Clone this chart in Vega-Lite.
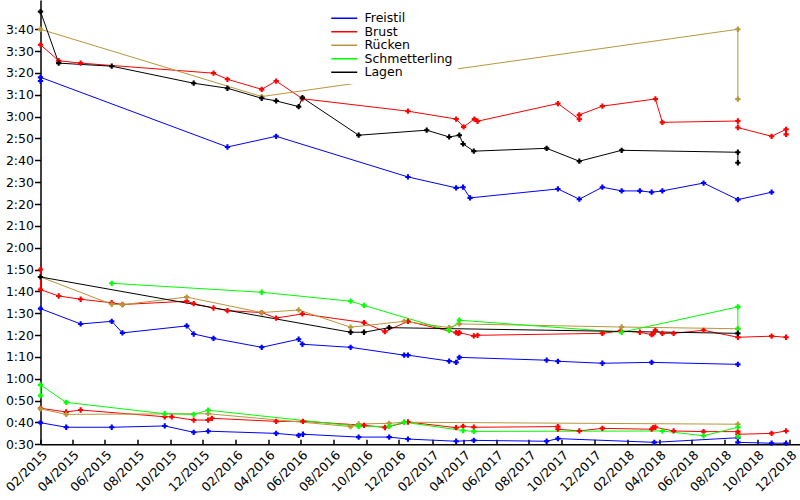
{
  "$schema": "https://vega.github.io/schema/vega-lite/v6.json",
  "width": 759.5,
  "height": 444.3,
  "autosize": {"type": "none"},
  "padding": {"left": 40.5, "top": 0, "right": 0, "bottom": 55.7},
  "background": "white",
  "config": {
    "view": {"stroke": null},
    "font": "DejaVu Sans",
    "axis": {"grid": false, "title": null, "domainColor": "black", "domainWidth": 1.5, "tickColor": "black", "tickWidth": 1.5, "labelColor": "black", "labelFontSize": 12.5, "labelFont": "DejaVu Sans"}
  },
  "datasets": {
    "zeiten": [
      {"datum": "2015-02-01", "stil": "Freistil", "strecke": 200, "zeit": 196.3},
      {"datum": "2015-02-01", "stil": "Freistil", "strecke": 200, "zeit": 198.0},
      {"datum": "2016-01-16", "stil": "Freistil", "strecke": 200, "zeit": 166.1},
      {"datum": "2016-04-16", "stil": "Freistil", "strecke": 200, "zeit": 171.0},
      {"datum": "2016-12-18", "stil": "Freistil", "strecke": 200, "zeit": 152.4},
      {"datum": "2017-03-18", "stil": "Freistil", "strecke": 200, "zeit": 147.4},
      {"datum": "2017-03-31", "stil": "Freistil", "strecke": 200, "zeit": 147.7},
      {"datum": "2017-04-13", "stil": "Freistil", "strecke": 200, "zeit": 142.8},
      {"datum": "2017-09-24", "stil": "Freistil", "strecke": 200, "zeit": 146.9},
      {"datum": "2017-11-03", "stil": "Freistil", "strecke": 200, "zeit": 142.2},
      {"datum": "2017-12-16", "stil": "Freistil", "strecke": 200, "zeit": 147.7},
      {"datum": "2018-01-21", "stil": "Freistil", "strecke": 200, "zeit": 146.0},
      {"datum": "2018-02-24", "stil": "Freistil", "strecke": 200, "zeit": 146.0},
      {"datum": "2018-03-18", "stil": "Freistil", "strecke": 200, "zeit": 145.4},
      {"datum": "2018-04-07", "stil": "Freistil", "strecke": 200, "zeit": 146.0},
      {"datum": "2018-06-23", "stil": "Freistil", "strecke": 200, "zeit": 149.6},
      {"datum": "2018-08-26", "stil": "Freistil", "strecke": 200, "zeit": 142.0},
      {"datum": "2018-10-28", "stil": "Freistil", "strecke": 200, "zeit": 145.4},

      {"datum": "2015-02-01", "stil": "Brust", "strecke": 200, "zeit": 212.9},
      {"datum": "2015-03-07", "stil": "Brust", "strecke": 200, "zeit": 205.6},
      {"datum": "2015-04-17", "stil": "Brust", "strecke": 200, "zeit": 204.5},
      {"datum": "2015-12-21", "stil": "Brust", "strecke": 200, "zeit": 199.9},
      {"datum": "2016-01-16", "stil": "Brust", "strecke": 200, "zeit": 197.1},
      {"datum": "2016-03-20", "stil": "Brust", "strecke": 200, "zeit": 192.5},
      {"datum": "2016-04-16", "stil": "Brust", "strecke": 200, "zeit": 196.3},
      {"datum": "2016-06-04", "stil": "Brust", "strecke": 200, "zeit": 188.2},
      {"datum": "2016-12-18", "stil": "Brust", "strecke": 200, "zeit": 182.5},
      {"datum": "2017-03-18", "stil": "Brust", "strecke": 200, "zeit": 178.9},
      {"datum": "2017-04-01", "stil": "Brust", "strecke": 200, "zeit": 175.3},
      {"datum": "2017-04-21", "stil": "Brust", "strecke": 200, "zeit": 178.9},
      {"datum": "2017-04-27", "stil": "Brust", "strecke": 200, "zeit": 177.9},
      {"datum": "2017-09-24", "stil": "Brust", "strecke": 200, "zeit": 186.0},
      {"datum": "2017-11-03", "stil": "Brust", "strecke": 200, "zeit": 178.8},
      {"datum": "2017-11-03", "stil": "Brust", "strecke": 200, "zeit": 180.8},
      {"datum": "2017-12-16", "stil": "Brust", "strecke": 200, "zeit": 184.8},
      {"datum": "2018-03-25", "stil": "Brust", "strecke": 200, "zeit": 188.1},
      {"datum": "2018-04-07", "stil": "Brust", "strecke": 200, "zeit": 177.4},
      {"datum": "2018-08-26", "stil": "Brust", "strecke": 200, "zeit": 178.0},
      {"datum": "2018-08-26", "stil": "Brust", "strecke": 200, "zeit": 175.0},
      {"datum": "2018-10-28", "stil": "Brust", "strecke": 200, "zeit": 171.0},
      {"datum": "2018-11-24", "stil": "Brust", "strecke": 200, "zeit": 174.2},
      {"datum": "2018-11-24", "stil": "Brust", "strecke": 200, "zeit": 171.9},

      {"datum": "2015-02-01", "stil": "Rücken", "strecke": 200, "zeit": 220.0},
      {"datum": "2016-03-20", "stil": "Rücken", "strecke": 200, "zeit": 189.2},
      {"datum": "2018-08-26", "stil": "Rücken", "strecke": 200, "zeit": 220.0},
      {"datum": "2018-08-26", "stil": "Rücken", "strecke": 200, "zeit": 188.0},

      {"datum": "2015-02-01", "stil": "Lagen", "strecke": 200, "zeit": 228.1},
      {"datum": "2015-03-07", "stil": "Lagen", "strecke": 200, "zeit": 204.5},
      {"datum": "2015-06-14", "stil": "Lagen", "strecke": 200, "zeit": 203.1},
      {"datum": "2015-11-14", "stil": "Lagen", "strecke": 200, "zeit": 195.3},
      {"datum": "2016-01-16", "stil": "Lagen", "strecke": 200, "zeit": 193.0},
      {"datum": "2016-03-20", "stil": "Lagen", "strecke": 200, "zeit": 188.4},
      {"datum": "2016-04-16", "stil": "Lagen", "strecke": 200, "zeit": 187.2},
      {"datum": "2016-05-28", "stil": "Lagen", "strecke": 200, "zeit": 184.6},
      {"datum": "2016-06-04", "stil": "Lagen", "strecke": 200, "zeit": 188.7},
      {"datum": "2016-09-17", "stil": "Lagen", "strecke": 200, "zeit": 171.5},
      {"datum": "2017-01-22", "stil": "Lagen", "strecke": 200, "zeit": 173.8},
      {"datum": "2017-03-05", "stil": "Lagen", "strecke": 200, "zeit": 170.7},
      {"datum": "2017-03-24", "stil": "Lagen", "strecke": 200, "zeit": 171.5},
      {"datum": "2017-03-31", "stil": "Lagen", "strecke": 200, "zeit": 167.5},
      {"datum": "2017-04-20", "stil": "Lagen", "strecke": 200, "zeit": 164.2},
      {"datum": "2017-09-03", "stil": "Lagen", "strecke": 200, "zeit": 165.5},
      {"datum": "2017-11-03", "stil": "Lagen", "strecke": 200, "zeit": 159.6},
      {"datum": "2018-01-21", "stil": "Lagen", "strecke": 200, "zeit": 164.6},
      {"datum": "2018-08-26", "stil": "Lagen", "strecke": 200, "zeit": 163.7},
      {"datum": "2018-08-26", "stil": "Lagen", "strecke": 200, "zeit": 158.9},

      {"datum": "2015-02-01", "stil": "Freistil", "strecke": 100, "zeit": 92.1},
      {"datum": "2015-04-17", "stil": "Freistil", "strecke": 100, "zeit": 85.1},
      {"datum": "2015-06-14", "stil": "Freistil", "strecke": 100, "zeit": 86.3},
      {"datum": "2015-07-04", "stil": "Freistil", "strecke": 100, "zeit": 81.0},
      {"datum": "2015-11-01", "stil": "Freistil", "strecke": 100, "zeit": 84.2},
      {"datum": "2015-11-14", "stil": "Freistil", "strecke": 100, "zeit": 80.5},
      {"datum": "2015-12-21", "stil": "Freistil", "strecke": 100, "zeit": 78.5},
      {"datum": "2016-03-20", "stil": "Freistil", "strecke": 100, "zeit": 74.4},
      {"datum": "2016-05-28", "stil": "Freistil", "strecke": 100, "zeit": 78.1},
      {"datum": "2016-06-04", "stil": "Freistil", "strecke": 100, "zeit": 75.8},
      {"datum": "2016-09-02", "stil": "Freistil", "strecke": 100, "zeit": 74.4},
      {"datum": "2016-12-11", "stil": "Freistil", "strecke": 100, "zeit": 70.8},
      {"datum": "2016-12-18", "stil": "Freistil", "strecke": 100, "zeit": 70.8},
      {"datum": "2017-03-05", "stil": "Freistil", "strecke": 100, "zeit": 68.1},
      {"datum": "2017-03-18", "stil": "Freistil", "strecke": 100, "zeit": 67.5},
      {"datum": "2017-03-24", "stil": "Freistil", "strecke": 100, "zeit": 69.8},
      {"datum": "2017-09-03", "stil": "Freistil", "strecke": 100, "zeit": 68.5},
      {"datum": "2017-09-24", "stil": "Freistil", "strecke": 100, "zeit": 68.0},
      {"datum": "2017-12-16", "stil": "Freistil", "strecke": 100, "zeit": 67.1},
      {"datum": "2018-03-18", "stil": "Freistil", "strecke": 100, "zeit": 67.5},
      {"datum": "2018-08-26", "stil": "Freistil", "strecke": 100, "zeit": 66.6},

      {"datum": "2015-02-01", "stil": "Brust", "strecke": 100, "zeit": 110.0},
      {"datum": "2015-02-01", "stil": "Brust", "strecke": 100, "zeit": 100.8},
      {"datum": "2015-03-07", "stil": "Brust", "strecke": 100, "zeit": 97.9},
      {"datum": "2015-04-17", "stil": "Brust", "strecke": 100, "zeit": 96.4},
      {"datum": "2015-06-14", "stil": "Brust", "strecke": 100, "zeit": 94.8},
      {"datum": "2015-07-04", "stil": "Brust", "strecke": 100, "zeit": 94.0},
      {"datum": "2015-11-01", "stil": "Brust", "strecke": 100, "zeit": 95.5},
      {"datum": "2015-11-14", "stil": "Brust", "strecke": 100, "zeit": 94.4},
      {"datum": "2015-12-21", "stil": "Brust", "strecke": 100, "zeit": 92.4},
      {"datum": "2016-01-16", "stil": "Brust", "strecke": 100, "zeit": 91.2},
      {"datum": "2016-03-20", "stil": "Brust", "strecke": 100, "zeit": 90.3},
      {"datum": "2016-04-16", "stil": "Brust", "strecke": 100, "zeit": 87.8},
      {"datum": "2016-06-04", "stil": "Brust", "strecke": 100, "zeit": 89.7},
      {"datum": "2016-09-27", "stil": "Brust", "strecke": 100, "zeit": 85.7},
      {"datum": "2016-11-05", "stil": "Brust", "strecke": 100, "zeit": 81.6},
      {"datum": "2016-12-18", "stil": "Brust", "strecke": 100, "zeit": 86.3},
      {"datum": "2017-03-18", "stil": "Brust", "strecke": 100, "zeit": 81.1},
      {"datum": "2017-03-22", "stil": "Brust", "strecke": 100, "zeit": 80.8},
      {"datum": "2017-03-24", "stil": "Brust", "strecke": 100, "zeit": 81.1},
      {"datum": "2017-04-20", "stil": "Brust", "strecke": 100, "zeit": 79.6},
      {"datum": "2017-04-27", "stil": "Brust", "strecke": 100, "zeit": 79.9},
      {"datum": "2017-12-16", "stil": "Brust", "strecke": 100, "zeit": 80.8},
      {"datum": "2018-01-19", "stil": "Brust", "strecke": 100, "zeit": 81.9},
      {"datum": "2018-02-24", "stil": "Brust", "strecke": 100, "zeit": 81.3},
      {"datum": "2018-03-18", "stil": "Brust", "strecke": 100, "zeit": 80.2},
      {"datum": "2018-03-21", "stil": "Brust", "strecke": 100, "zeit": 80.6},
      {"datum": "2018-03-25", "stil": "Brust", "strecke": 100, "zeit": 82.2},
      {"datum": "2018-04-07", "stil": "Brust", "strecke": 100, "zeit": 80.8},
      {"datum": "2018-04-28", "stil": "Brust", "strecke": 100, "zeit": 80.8},
      {"datum": "2018-06-23", "stil": "Brust", "strecke": 100, "zeit": 82.2},
      {"datum": "2018-08-26", "stil": "Brust", "strecke": 100, "zeit": 79.0},
      {"datum": "2018-10-28", "stil": "Brust", "strecke": 100, "zeit": 79.5},
      {"datum": "2018-11-24", "stil": "Brust", "strecke": 100, "zeit": 79.0},

      {"datum": "2015-02-01", "stil": "Rücken", "strecke": 100, "zeit": 106.6},
      {"datum": "2015-06-14", "stil": "Rücken", "strecke": 100, "zeit": 94.1},
      {"datum": "2015-07-04", "stil": "Rücken", "strecke": 100, "zeit": 93.9},
      {"datum": "2015-11-01", "stil": "Rücken", "strecke": 100, "zeit": 97.4},
      {"datum": "2016-03-20", "stil": "Rücken", "strecke": 100, "zeit": 90.3},
      {"datum": "2016-05-28", "stil": "Rücken", "strecke": 100, "zeit": 91.5},
      {"datum": "2016-09-02", "stil": "Rücken", "strecke": 100, "zeit": 83.6},
      {"datum": "2016-12-11", "stil": "Rücken", "strecke": 100, "zeit": 86.3},
      {"datum": "2017-03-05", "stil": "Rücken", "strecke": 100, "zeit": 83.4},
      {"datum": "2017-03-24", "stil": "Rücken", "strecke": 100, "zeit": 85.1},
      {"datum": "2018-01-21", "stil": "Rücken", "strecke": 100, "zeit": 83.7},
      {"datum": "2018-08-26", "stil": "Rücken", "strecke": 100, "zeit": 82.9},

      {"datum": "2015-06-14", "stil": "Schmetterling", "strecke": 100, "zeit": 103.7},
      {"datum": "2016-03-20", "stil": "Schmetterling", "strecke": 100, "zeit": 99.6},
      {"datum": "2016-09-02", "stil": "Schmetterling", "strecke": 100, "zeit": 95.5},
      {"datum": "2016-09-27", "stil": "Schmetterling", "strecke": 100, "zeit": 93.6},
      {"datum": "2017-03-05", "stil": "Schmetterling", "strecke": 100, "zeit": 82.0},
      {"datum": "2017-03-24", "stil": "Schmetterling", "strecke": 100, "zeit": 86.8},
      {"datum": "2018-01-21", "stil": "Schmetterling", "strecke": 100, "zeit": 81.3},
      {"datum": "2018-08-26", "stil": "Schmetterling", "strecke": 100, "zeit": 92.9},
      {"datum": "2018-08-26", "stil": "Schmetterling", "strecke": 100, "zeit": 82.9},

      {"datum": "2015-02-01", "stil": "Lagen", "strecke": 100, "zeit": 106.6},
      {"datum": "2016-09-02", "stil": "Lagen", "strecke": 100, "zeit": 81.3},
      {"datum": "2016-09-27", "stil": "Lagen", "strecke": 100, "zeit": 81.3},
      {"datum": "2016-11-13", "stil": "Lagen", "strecke": 100, "zeit": 83.4},
      {"datum": "2018-08-26", "stil": "Lagen", "strecke": 100, "zeit": 80.8},

      {"datum": "2015-02-01", "stil": "Freistil", "strecke": 50, "zeit": 39.9},
      {"datum": "2015-03-21", "stil": "Freistil", "strecke": 50, "zeit": 37.8},
      {"datum": "2015-06-14", "stil": "Freistil", "strecke": 50, "zeit": 37.8},
      {"datum": "2015-09-21", "stil": "Freistil", "strecke": 50, "zeit": 38.4},
      {"datum": "2015-11-14", "stil": "Freistil", "strecke": 50, "zeit": 35.5},
      {"datum": "2015-12-11", "stil": "Freistil", "strecke": 50, "zeit": 36.0},
      {"datum": "2016-04-16", "stil": "Freistil", "strecke": 50, "zeit": 35.0},
      {"datum": "2016-05-28", "stil": "Freistil", "strecke": 50, "zeit": 34.1},
      {"datum": "2016-06-05", "stil": "Freistil", "strecke": 50, "zeit": 34.6},
      {"datum": "2016-09-17", "stil": "Freistil", "strecke": 50, "zeit": 33.3},
      {"datum": "2016-11-13", "stil": "Freistil", "strecke": 50, "zeit": 33.3},
      {"datum": "2016-12-18", "stil": "Freistil", "strecke": 50, "zeit": 32.4},
      {"datum": "2017-03-18", "stil": "Freistil", "strecke": 50, "zeit": 31.4},
      {"datum": "2017-04-20", "stil": "Freistil", "strecke": 50, "zeit": 31.8},
      {"datum": "2017-09-03", "stil": "Freistil", "strecke": 50, "zeit": 31.4},
      {"datum": "2017-09-24", "stil": "Freistil", "strecke": 50, "zeit": 32.6},
      {"datum": "2018-03-23", "stil": "Freistil", "strecke": 50, "zeit": 30.9},
      {"datum": "2018-08-26", "stil": "Freistil", "strecke": 50, "zeit": 33.0},
      {"datum": "2018-08-26", "stil": "Freistil", "strecke": 50, "zeit": 30.9},
      {"datum": "2018-10-28", "stil": "Freistil", "strecke": 50, "zeit": 30.5},
      {"datum": "2018-11-24", "stil": "Freistil", "strecke": 50, "zeit": 30.5},

      {"datum": "2015-02-01", "stil": "Brust", "strecke": 50, "zeit": 46.5},
      {"datum": "2015-03-21", "stil": "Brust", "strecke": 50, "zeit": 44.8},
      {"datum": "2015-04-17", "stil": "Brust", "strecke": 50, "zeit": 45.7},
      {"datum": "2015-09-21", "stil": "Brust", "strecke": 50, "zeit": 42.6},
      {"datum": "2015-10-04", "stil": "Brust", "strecke": 50, "zeit": 42.6},
      {"datum": "2015-11-14", "stil": "Brust", "strecke": 50, "zeit": 41.1},
      {"datum": "2015-12-11", "stil": "Brust", "strecke": 50, "zeit": 41.1},
      {"datum": "2015-12-18", "stil": "Brust", "strecke": 50, "zeit": 41.9},
      {"datum": "2016-04-16", "stil": "Brust", "strecke": 50, "zeit": 40.5},
      {"datum": "2016-06-05", "stil": "Brust", "strecke": 50, "zeit": 40.5},
      {"datum": "2016-09-27", "stil": "Brust", "strecke": 50, "zeit": 38.7},
      {"datum": "2016-11-05", "stil": "Brust", "strecke": 50, "zeit": 37.7},
      {"datum": "2016-12-18", "stil": "Brust", "strecke": 50, "zeit": 40.2},
      {"datum": "2017-03-18", "stil": "Brust", "strecke": 50, "zeit": 37.6},
      {"datum": "2017-03-31", "stil": "Brust", "strecke": 50, "zeit": 38.2},
      {"datum": "2017-04-20", "stil": "Brust", "strecke": 50, "zeit": 37.8},
      {"datum": "2017-09-24", "stil": "Brust", "strecke": 50, "zeit": 38.1},
      {"datum": "2017-09-24", "stil": "Brust", "strecke": 50, "zeit": 36.9},
      {"datum": "2017-11-03", "stil": "Brust", "strecke": 50, "zeit": 36.1},
      {"datum": "2017-12-16", "stil": "Brust", "strecke": 50, "zeit": 37.3},
      {"datum": "2018-03-18", "stil": "Brust", "strecke": 50, "zeit": 36.9},
      {"datum": "2018-03-21", "stil": "Brust", "strecke": 50, "zeit": 37.6},
      {"datum": "2018-03-25", "stil": "Brust", "strecke": 50, "zeit": 37.8},
      {"datum": "2018-04-28", "stil": "Brust", "strecke": 50, "zeit": 36.1},
      {"datum": "2018-06-23", "stil": "Brust", "strecke": 50, "zeit": 35.8},
      {"datum": "2018-08-26", "stil": "Brust", "strecke": 50, "zeit": 35.8},
      {"datum": "2018-08-26", "stil": "Brust", "strecke": 50, "zeit": 34.6},
      {"datum": "2018-10-28", "stil": "Brust", "strecke": 50, "zeit": 35.0},
      {"datum": "2018-11-24", "stil": "Brust", "strecke": 50, "zeit": 36.1},

      {"datum": "2015-02-01", "stil": "Rücken", "strecke": 50, "zeit": 46.2},
      {"datum": "2015-03-21", "stil": "Rücken", "strecke": 50, "zeit": 43.7},
      {"datum": "2015-12-11", "stil": "Rücken", "strecke": 50, "zeit": 44.0},
      {"datum": "2016-09-02", "stil": "Rücken", "strecke": 50, "zeit": 38.1},
      {"datum": "2016-09-17", "stil": "Rücken", "strecke": 50, "zeit": 39.3},
      {"datum": "2016-11-13", "stil": "Rücken", "strecke": 50, "zeit": 39.6},
      {"datum": "2016-12-11", "stil": "Rücken", "strecke": 50, "zeit": 40.1},
      {"datum": "2018-08-26", "stil": "Rücken", "strecke": 50, "zeit": 39.2},

      {"datum": "2015-02-01", "stil": "Schmetterling", "strecke": 50, "zeit": 52.3},
      {"datum": "2015-02-01", "stil": "Schmetterling", "strecke": 50, "zeit": 57.2},
      {"datum": "2015-03-21", "stil": "Schmetterling", "strecke": 50, "zeit": 49.2},
      {"datum": "2015-09-21", "stil": "Schmetterling", "strecke": 50, "zeit": 44.0},
      {"datum": "2015-11-14", "stil": "Schmetterling", "strecke": 50, "zeit": 43.7},
      {"datum": "2015-12-11", "stil": "Schmetterling", "strecke": 50, "zeit": 45.6},
      {"datum": "2016-09-17", "stil": "Schmetterling", "strecke": 50, "zeit": 38.2},
      {"datum": "2016-11-13", "stil": "Schmetterling", "strecke": 50, "zeit": 38.2},
      {"datum": "2016-12-11", "stil": "Schmetterling", "strecke": 50, "zeit": 40.1},
      {"datum": "2017-03-31", "stil": "Schmetterling", "strecke": 50, "zeit": 36.3},
      {"datum": "2017-04-20", "stil": "Schmetterling", "strecke": 50, "zeit": 35.9},
      {"datum": "2018-04-07", "stil": "Schmetterling", "strecke": 50, "zeit": 36.1},
      {"datum": "2018-06-23", "stil": "Schmetterling", "strecke": 50, "zeit": 33.9},
      {"datum": "2018-08-26", "stil": "Schmetterling", "strecke": 50, "zeit": 37.8},
      {"datum": "2018-08-26", "stil": "Schmetterling", "strecke": 50, "zeit": 33.5}
    ]
  },
  "data": {"name": "zeiten"},
  "encoding": {
    "x": {
      "field": "datum",
      "type": "temporal",
      "scale": {"type": "utc", "domain": [{"year": 2015, "month": 2, "date": 1, "utc": true}, {"year": 2018, "month": 12, "date": 20, "utc": true}]},
      "axis": {
        "format": "%m/%Y",
        "labelAngle": -45,
        "tickSize": -5,
        "labelPadding": 9,
        "labelOverlap": false,
        "values": [
          {"year": 2015, "month": 2, "date": 1, "utc": true}, {"year": 2015, "month": 4, "date": 1, "utc": true},
          {"year": 2015, "month": 6, "date": 1, "utc": true}, {"year": 2015, "month": 8, "date": 1, "utc": true},
          {"year": 2015, "month": 10, "date": 1, "utc": true}, {"year": 2015, "month": 12, "date": 1, "utc": true},
          {"year": 2016, "month": 2, "date": 1, "utc": true}, {"year": 2016, "month": 4, "date": 1, "utc": true},
          {"year": 2016, "month": 6, "date": 1, "utc": true}, {"year": 2016, "month": 8, "date": 1, "utc": true},
          {"year": 2016, "month": 10, "date": 1, "utc": true}, {"year": 2016, "month": 12, "date": 1, "utc": true},
          {"year": 2017, "month": 2, "date": 1, "utc": true}, {"year": 2017, "month": 4, "date": 1, "utc": true},
          {"year": 2017, "month": 6, "date": 1, "utc": true}, {"year": 2017, "month": 8, "date": 1, "utc": true},
          {"year": 2017, "month": 10, "date": 1, "utc": true}, {"year": 2017, "month": 12, "date": 1, "utc": true},
          {"year": 2018, "month": 2, "date": 1, "utc": true}, {"year": 2018, "month": 4, "date": 1, "utc": true},
          {"year": 2018, "month": 6, "date": 1, "utc": true}, {"year": 2018, "month": 8, "date": 1, "utc": true},
          {"year": 2018, "month": 10, "date": 1, "utc": true}, {"year": 2018, "month": 12, "date": 1, "utc": true}
        ]
      }
    },
    "y": {
      "field": "zeit",
      "type": "quantitative",
      "scale": {"domain": [30, 233.4], "nice": false, "zero": false},
      "axis": {
        "values": [30, 40, 50, 60, 70, 80, 90, 100, 110, 120, 130, 140, 150, 160, 170, 180, 190, 200, 210, 220],
        "labelExpr": "floor(datum.value / 60) + ':' + (datum.value % 60 < 10 ? '0' : '') + (datum.value % 60)",
        "tickSize": 6,
        "labelPadding": 1
      }
    },
    "detail": {"field": "strecke", "type": "nominal"}
  },
  "layer": [
    {
      "mark": {"type": "line", "strokeWidth": 1},
      "encoding": {
        "color": {
          "field": "stil",
          "type": "nominal",
          "scale": {"domain": ["Freistil", "Brust", "Rücken", "Schmetterling", "Lagen"], "range": ["#0000ff", "#ff0000", "#b8963c", "#00ff00", "#000000"]},
          "legend": {
            "title": null,
            "orient": "none",
            "legendX": 292.5,
            "legendY": 7,
            "fillColor": "white",
            "padding": 5,
            "symbolType": "M-3,0H3",
            "symbolSize": 75,
            "symbolStrokeWidth": 1.5,
            "labelOffset": 14,
            "labelFontSize": 12.5,
            "labelColor": "black",
            "labelFont": "DejaVu Sans",
            "rowPadding": 0.5
          }
        }
      }
    },
    {
      "mark": {"type": "point", "shape": "cross", "filled": true, "size": 28, "opacity": 1},
      "encoding": {
        "color": {"field": "stil", "type": "nominal", "legend": null}
      }
    }
  ],
  "resolve": {"legend": {"color": "independent"}}
}
